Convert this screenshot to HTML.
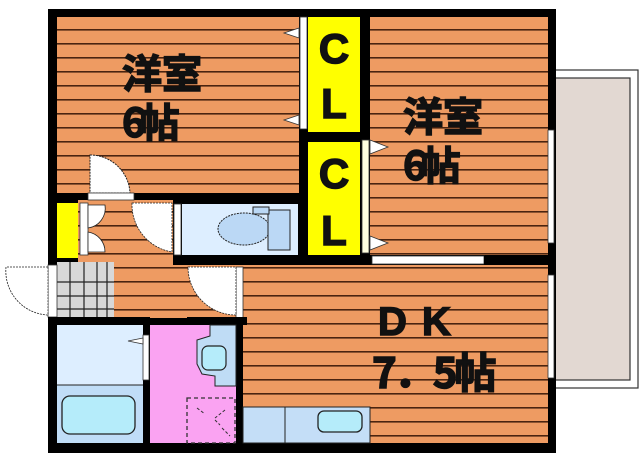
<!DOCTYPE html>
<html><head><meta charset="utf-8"><style>html,body{margin:0;padding:0;background:#fff}svg{display:block}</style></head><body>
<svg width="640" height="460" viewBox="0 0 640 460" xmlns="http://www.w3.org/2000/svg">
<defs>
<pattern id="st" width="14" height="14" patternUnits="userSpaceOnUse" y="3">
<rect width="14" height="14" fill="#EE9B62"/><rect y="12" width="14" height="1.6" fill="#4a2410"/>
</pattern>
</defs>
<rect x="552" y="70" width="86" height="318" fill="#fff" stroke="#333" stroke-width="1.2"/>
<rect x="552" y="78" width="78" height="302" fill="#E2D8D2" stroke="#333" stroke-width="1.2"/>
<rect x="48" y="9" width="508" height="444" fill="#000"/>
<rect x="57" y="17" width="242" height="176" fill="url(#st)"/>
<rect x="370" y="17" width="178" height="238" fill="url(#st)"/>
<rect x="243" y="265" width="305" height="178" fill="url(#st)"/>
<rect x="78" y="200" width="165" height="118" fill="url(#st)"/>
<rect x="308" y="17" width="52" height="115" fill="#FFFF00"/>
<rect x="308" y="142" width="52" height="113" fill="#FFFF00"/>
<rect x="300" y="17" width="7" height="112" fill="#fff" stroke="#333" stroke-width="0.8"/>
<rect x="362" y="140" width="7" height="113" fill="#FFFFE0" stroke="#333" stroke-width="0.8"/>
<polygon points="299,28 284,33 299,38" fill="#fff" stroke="#333" stroke-width="0.8"/>
<polygon points="299,115 284,120 299,125" fill="#fff" stroke="#333" stroke-width="0.8"/>
<polygon points="370,140 388,147 370,154" fill="#fff" stroke="#333" stroke-width="0.8"/>
<polygon points="370,236 388,243 370,250" fill="#fff" stroke="#333" stroke-width="0.8"/>
<rect x="372" y="256" width="112" height="8" fill="#fff" stroke="#333" stroke-width="0.8"/>
<rect x="548" y="130" width="6" height="113" fill="#fff" stroke="#333" stroke-width="0.8"/>
<rect x="548" y="275" width="6" height="103" fill="#fff" stroke="#333" stroke-width="0.8"/>
<path d="M90,155 A40,40 0 0 1 130,193 L90,193 Z" fill="#fff" stroke="#222" stroke-width="1" stroke-dasharray="2,1"/>
<rect x="88" y="193" width="46" height="7" fill="#fff" stroke="#333" stroke-width="0.8"/>
<rect x="57" y="203" width="21" height="55" fill="#FFFF00"/>
<rect x="80" y="203" width="8" height="52" fill="#fff" stroke="#333" stroke-width="0.8"/>
<path d="M88,205 L105,205 A20,20 0 0 1 88,228 Z" fill="#fff" stroke="#222" stroke-width="0.8"/>
<path d="M88,232 A20,20 0 0 1 105,252 L88,252 Z" fill="#fff" stroke="#222" stroke-width="0.8"/>
<rect x="173" y="200" width="126" height="56" fill="#000"/>
<rect x="182" y="204" width="116" height="51" fill="#DDEEFF"/>
<rect x="174" y="204" width="7" height="51" fill="#fff" stroke="#333" stroke-width="0.8"/>
<path d="M132,203 L172,203 L172,252 A48,48 0 0 1 132,203 Z" fill="#fff" stroke="#222" stroke-width="0.8" stroke-dasharray="2,1"/>
<ellipse cx="244" cy="229" rx="26" ry="16" fill="#BBD8F5" stroke="#222" stroke-dasharray="2,1"/>
<rect x="268" y="210" width="22" height="40" fill="#BBD8F5" stroke="#222"/>
<rect x="253" y="207" width="16" height="7" fill="#BBD8F5" stroke="#222"/>
<rect x="173" y="256" width="197" height="9" fill="#000"/>
<rect x="484" y="256" width="70" height="9" fill="#000"/>
<rect x="57" y="262" width="57" height="55" fill="#D8D8D8"/>
<g stroke="#222" stroke-width="1.2">
<line x1="70" y1="262" x2="70" y2="317"/><line x1="84" y1="262" x2="84" y2="317"/><line x1="97" y1="262" x2="97" y2="317"/><line x1="107" y1="262" x2="107" y2="317"/>
<line x1="57" y1="282" x2="114" y2="282"/><line x1="57" y1="296" x2="114" y2="296"/><line x1="57" y1="309" x2="114" y2="309"/>
</g>
<rect x="48" y="265" width="9" height="52" fill="#fff" stroke="#333" stroke-width="0.8"/>
<path d="M48,267 L6,267 A44,44 0 0 0 48,315 Z" fill="#fff" stroke="#222" stroke-width="0.8" stroke-dasharray="2,1"/>
<rect x="236" y="267" width="7" height="51" fill="#fff" stroke="#333" stroke-width="0.8"/>
<path d="M188,267 L236,267 L236,315 A48,48 0 0 1 188,267 Z" fill="#fff" stroke="#222" stroke-width="0.8" stroke-dasharray="2,1"/>
<rect x="48" y="317" width="102" height="8" fill="#000"/>
<rect x="187" y="317" width="60" height="8" fill="#000"/>
<rect x="143" y="317" width="7" height="130" fill="#000"/>
<rect x="236" y="317" width="7" height="130" fill="#000"/>
<rect x="57" y="325" width="86" height="60" fill="#DDEEFF"/>
<rect x="57" y="385" width="86" height="58" fill="#C0DDF7"/>
<line x1="57" y1="385" x2="143" y2="385" stroke="#222"/>
<rect x="143" y="335" width="6" height="45" fill="#fff" stroke="#333" stroke-width="0.8"/>
<polygon points="143,338 128,341 143,344" fill="#fff" stroke="#333" stroke-width="0.8"/>
<rect x="62" y="396" width="73" height="38" rx="8" fill="#B5ECFA" stroke="#222" stroke-width="1.3"/>
<rect x="150" y="325" width="86" height="118" fill="#FAA3F2"/>
<path d="M210,325 L236,325 L236,386 L215,386 L215,376 L202,374 L197,364 L197,340 L210,336 Z" fill="#BFDCF5" stroke="#222"/>
<rect x="202" y="346" width="24" height="24" rx="6" fill="#B5ECFA" stroke="#222" stroke-width="1.2"/>
<rect x="187" y="398" width="48" height="45" fill="none" stroke="#333" stroke-width="1.3" stroke-dasharray="4,3"/>
<path d="M197,408 L205,414 M215,420 L220,425 M222,428 L230,436 M225,410 L215,418" stroke="#333" stroke-dasharray="3,2"/>
<rect x="243" y="407" width="127" height="36" fill="#C4DEF7" stroke="#222" stroke-width="1"/>
<line x1="285" y1="407" x2="285" y2="443" stroke="#222"/>
<rect x="318" y="411" width="44" height="21" rx="6" fill="#B5ECFA" stroke="#222" stroke-width="1.3"/>
<g font-family="'Noto Sans CJK JP','WenQuanYi Zen Hei',sans-serif" font-weight="bold" fill="#111" stroke="#111" stroke-width="1.5">
<text x="122" y="88" font-size="40">洋室</text>
<text x="122" y="137" font-size="40" letter-spacing="-6">6帖</text>
<text x="403" y="131" font-size="40">洋室</text>
<text x="403" y="180" font-size="40" letter-spacing="-6">6帖</text>
<text x="378" y="335" font-size="40" font-family="'Liberation Sans',sans-serif" letter-spacing="2">D K</text>
<text x="372" y="388" font-size="42" letter-spacing="-3">7．5帖</text>
</g>
<g font-family="'Liberation Sans',sans-serif" font-weight="bold" fill="#111" stroke="#111" stroke-width="1.5" font-size="42" text-anchor="middle">
<text x="334" y="63">C</text><text x="334" y="118">L</text>
<text x="334" y="188">C</text><text x="334" y="245">L</text>
</g>
</svg>
</body></html>
